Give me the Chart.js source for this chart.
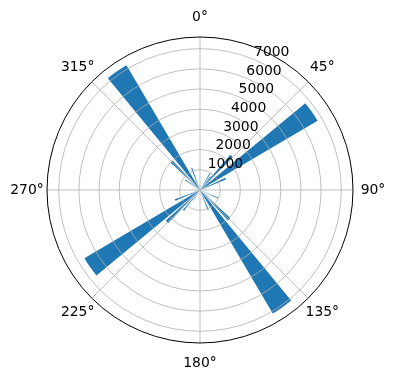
<!DOCTYPE html>
<html>
<head>
<meta charset="utf-8">
<script src="https://cdn.jsdelivr.net/npm/chart.js@4/dist/chart.umd.min.js"></script>
<style>
  html, body { margin: 0; padding: 0; background: #fff; }
  #wrap { width: 396px; height: 380px; }
</style>
</head>
<body>
<div id="wrap"><canvas id="chart"></canvas></div>
<script>
// Bar directions (deg, clockwise from north), angular widths (deg) and counts
const directions = [
  10, 31, 38, 43, 49, 55, 62, 66, 80,
  100, 114, 128, 135, 145, 152, 157.5, 170,
  190, 212, 219, 226, 235, 242, 248, 260,
  280, 304, 309, 315, 325, 332, 339, 350
];
const widths = [
  1.5, 3, 2.5, 4.5, 2, 9, 2, 3.5, 1.5,
  1.5, 3, 2, 4.5, 9, 2, 3, 1.5,
  1.5, 2, 3, 4.5, 9, 2, 3.5, 1.5,
  1.5, 3, 2, 4.5, 9, 2, 3, 1.5
];
const counts = [
  250, 960, 850, 2300, 600, 6760, 520, 1390, 300,
  280, 990, 560, 2050, 7100, 480, 1070, 230,
  260, 620, 1300, 2270, 6650, 540, 1330, 320,
  240, 890, 580, 1980, 7180, 500, 1150, 270
];

const radialTicks = [1000, 2000, 3000, 4000, 5000, 6000, 7000];
const radialMax = 7580;
const angleTicks = [0, 45, 90, 135, 180, 225, 270, 315];
const angleLabels = ["0°", "45°", "90°", "135°", "180°", "225°", "270°", "315°"];

// Build consecutive arcs around the circle; gaps are zero-height arcs
const order = directions.map((d, i) => i).sort((a, b) => directions[a] - directions[b]);
const arcValues = [];
const arcAngles = [];
let cursor = 0;
order.forEach((i) => {
  const start = directions[i] - widths[i] / 2;
  if (start - cursor > 0.01) {
    arcValues.push(0);
    arcAngles.push(start - cursor);
  }
  arcValues.push(counts[i]);
  arcAngles.push(widths[i]);
  cursor = start + widths[i];
});
if (360 - cursor > 0.01) {
  arcValues.push(0);
  arcAngles.push(360 - cursor);
}

const FONT = "'DejaVu Sans', sans-serif";

// Grid, spine and labels drawn over the bars (matplotlib style)
const polarOverlay = {
  id: "polarOverlay",
  afterDatasetsDraw(chart) {
    const scale = chart.scales.r;
    const ctx = chart.ctx;
    const cx = scale.xCenter;
    const cy = scale.yCenter;
    const R = scale.drawingArea;
    ctx.save();

    ctx.strokeStyle = "#b0b0b0";
    ctx.lineWidth = 0.8;
    radialTicks.forEach((v) => {
      const r = scale.getDistanceFromCenterForValue(v);
      ctx.beginPath();
      ctx.arc(cx, cy, r, 0, Math.PI * 2);
      ctx.stroke();
    });
    angleTicks.forEach((a) => {
      const t = (a * Math.PI) / 180;
      ctx.beginPath();
      ctx.moveTo(cx, cy);
      ctx.lineTo(cx + R * Math.sin(t), cy - R * Math.cos(t));
      ctx.stroke();
    });

    ctx.strokeStyle = "#000";
    ctx.lineWidth = 1;
    ctx.beginPath();
    ctx.arc(cx, cy, R, 0, Math.PI * 2);
    ctx.stroke();

    ctx.fillStyle = "#000";
    ctx.font = "13.9px " + FONT;
    ctx.textAlign = "center";
    ctx.textBaseline = "middle";
    angleTicks.forEach((a, i) => {
      const t = (a * Math.PI) / 180;
      const rr = R + 20;
      ctx.fillText(angleLabels[i], cx + rr * Math.sin(t), cy - rr * Math.cos(t));
    });

    ctx.textAlign = "left";
    ctx.textBaseline = "bottom";
    const lt = (22.5 * Math.PI) / 180;
    radialTicks.forEach((v) => {
      const r = scale.getDistanceFromCenterForValue(v);
      ctx.fillText(String(v), cx + r * Math.sin(lt), cy - r * Math.cos(lt));
    });
    ctx.restore();
  },
};

new Chart(document.getElementById("chart"), {
  type: "polarArea",
  data: {
    labels: arcValues.map(() => ""),
    datasets: [
      {
        data: arcValues,
        angle: arcAngles,
        backgroundColor: "#1f77b4",
        borderWidth: 0,
      },
    ],
  },
  options: {
    responsive: true,
    maintainAspectRatio: false,
    animation: false,
    events: [],
    layout: { padding: { left: 47, right: 42, top: 37, bottom: 36 } },
    plugins: {
      legend: { display: false },
      tooltip: { enabled: false },
    },
    scales: {
      r: {
        min: 0,
        max: radialMax,
        startAngle: 0,
        ticks: { display: false, stepSize: 1000 },
        grid: { display: false },
        angleLines: { display: false },
        pointLabels: { display: false },
      },
    },
  },
  plugins: [polarOverlay],
});
</script>
</body>
</html>
